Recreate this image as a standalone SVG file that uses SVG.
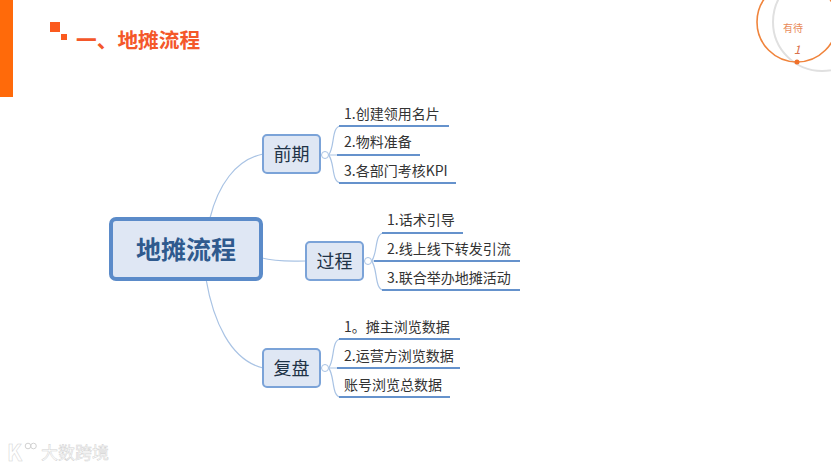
<svg xmlns="http://www.w3.org/2000/svg" width="831" height="468" viewBox="0 0 831 468">
<style>
text{font-family:"Noto Sans CJK SC","Liberation Sans",sans-serif}
.box{fill:#dfe7f4;stroke:#7ba3d8;stroke-width:2}
.nl{font-size:18px;fill:#1f3347;text-anchor:middle}
.lf{font-size:14px;fill:#333}
.ul{stroke:#6592cc;stroke-width:2;fill:none}
.br{stroke:#a9c3e4;stroke-width:1.2;fill:none}
.tog{fill:#fff;stroke:#a9c3e4;stroke-width:1}
.wm{fill:#fff;stroke:#d2d2d2;stroke-width:.5}
</style>
<rect width="831" height="468" fill="#fff"/>
<g id="decor">
<rect x="0" y="0" width="13" height="97" fill="#ff6a0a"/>
<rect x="50" y="22" width="10" height="10" fill="#fb5a1e"/>
<rect x="61" y="34" width="6" height="6" fill="#fb5a1e"/>
<circle cx="822" cy="22" r="49" fill="none" stroke="#e0e0e0" stroke-width="2"/>
<circle cx="797" cy="22" r="40" fill="none" stroke="#f0843c" stroke-width="1.6"/>
<circle cx="797" cy="62" r="2.5" fill="#f0702a"/>
<text x="793" y="32" font-size="10" text-anchor="middle" fill="#e88a5a">有待</text>
<text x="797" y="54" font-size="12" font-style="italic" text-anchor="middle" fill="#d9704a">1</text>
</g>
<text id="title" x="76" y="47.500" font-size="20.700" font-weight="700" fill="#f4572a">一、地摊流程</text>
<g id="connectors">
<path class="br" d="M210 218C218 186 235 160 263 154"/>
<path class="br" d="M262 258C276 262 290 261 306 261"/>
<path class="br" d="M206 279C213 320 230 360 263 368"/>
<path class="br" d="M328.500 155C335 148 331 126 341 126M328.500 155H337M328.500 155C335 162 331 183 341 183"/>
<path class="br" d="M371.500 261C378 254 374 233 384 233M371.500 261H380M371.500 261C378 268 374 290 384 290"/>
<path class="br" d="M328.500 368C335 361 331 339 341 339M328.500 368H337M328.500 368C335 375 331 397 341 397"/>
<path class="ul" d="M339 126H449M337 155H420M339 183H456"/>
<path class="ul" d="M382 233H463M374 261H520M382 290H520"/>
<path class="ul" d="M339 339H460M337 368H460M339 397H450"/>
</g>
<g id="root">
<rect x="111" y="219" width="150" height="60" rx="5" fill="#dfe7f4" stroke="#5b8bc9" stroke-width="4"/>
<text x="186" y="259" font-size="25" font-weight="700" text-anchor="middle" fill="#2f5a8e">地摊流程</text>
</g>
<g id="n1">
<rect class="box" x="263" y="135" width="57" height="38" rx="4"/>
<text class="nl" x="291.500" y="161">前期</text>
<circle class="tog" cx="325" cy="155" r="3.500"/>
</g>
<g id="n2">
<rect class="box" x="306" y="242" width="57" height="38" rx="4"/>
<text class="nl" x="334.500" y="268">过程</text>
<circle class="tog" cx="368" cy="261" r="3.500"/>
</g>
<g id="n3">
<rect class="box" x="263" y="349" width="57" height="38" rx="4"/>
<text class="nl" x="291.500" y="375">复盘</text>
<circle class="tog" cx="325" cy="368" r="3.500"/>
</g>
<g id="leaves1">
<text class="lf" x="344" y="119">1.创建领用名片</text>
<text class="lf" x="344" y="147">2.物料准备</text>
<text class="lf" x="344" y="176">3.各部门考核KPI</text>
</g>
<g id="leaves2">
<text class="lf" x="387" y="225">1.话术引导</text>
<text class="lf" x="387" y="254">2.线上线下转发引流</text>
<text class="lf" x="387" y="283">3.联合举办地摊活动</text>
</g>
<g id="leaves3">
<text class="lf" x="344" y="332">1。摊主浏览数据</text>
<text class="lf" x="344" y="361">2.运营方浏览数据</text>
<text class="lf" x="344" y="390">账号浏览总数据</text>
</g>
<g id="watermark">
<text class="wm" x="7" y="461" font-size="22" font-weight="700">K</text>
<circle cx="28" cy="446" r="2.800" fill="none" stroke="#d2d2d2"/>
<circle cx="33.500" cy="446" r="2.800" fill="none" stroke="#d2d2d2"/>
<text class="wm" x="41" y="459" font-size="17">大数跨境</text>
</g>
</svg>
